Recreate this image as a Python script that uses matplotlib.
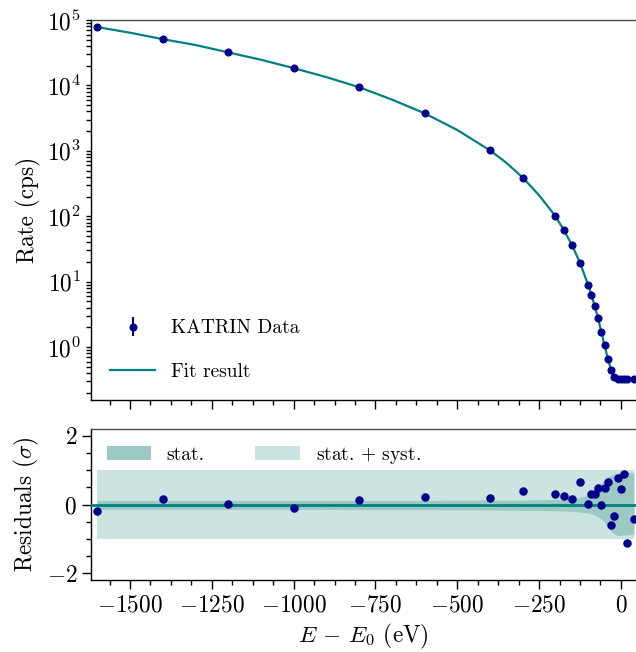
import matplotlib
matplotlib.use('Agg')
import matplotlib.pyplot as plt
from matplotlib.ticker import FixedLocator, AutoMinorLocator, MultipleLocator, LogLocator
import numpy as np

plt.rcParams['font.family'] = 'serif'
plt.rcParams['font.serif'] = ['cmr10']
plt.rcParams['mathtext.fontset'] = 'cm'
plt.rcParams['axes.formatter.use_mathtext'] = True
plt.rcParams['font.size'] = 16.8

# retarding energy relative to endpoint (eV)
energy = [-1600, -1400, -1200, -1000, -800, -600, -400, -300, -200, -175, -150,
          -125, -100, -90, -80, -70, -60, -50, -40, -30, -20, -10, 0, 10, 20, 40]
rate = [78000, 51000, 32000, 18400, 9400, 3750, 1015, 390, 100, 62, 36.6,
        19.4, 8.8, 6.3, 4.2, 2.75, 1.72, 1.06, 0.66, 0.44, 0.35, 0.32, 0.32,
        0.32, 0.32, 0.32]
rate_err = [0.0] * len(energy)
residuals = [-0.19, 0.17, 0.01, -0.10, 0.13, 0.21, 0.18, 0.40, 0.30, 0.24, 0.17,
             0.66, 0.01, 0.30, 0.31, 0.48, -0.01, 0.48, 0.66, -0.61, -0.34, 0.78,
             0.46, 0.90, -1.12, -0.41]
stat_upper = [0.12, 0.12, 0.12, 0.12, 0.12, 0.12, 0.13, 0.13, 0.15, 0.16, 0.17,
              0.20, 0.28, 0.34, 0.42, 0.52, 0.62, 0.72, 0.80, 0.86, 0.89, 0.92,
              0.93, 0.94, 0.94, 0.92]
stat_lower = [-0.14, -0.14, -0.14, -0.14, -0.15, -0.15, -0.16, -0.17, -0.18, -0.19,
              -0.20, -0.22, -0.25, -0.28, -0.31, -0.36, -0.42, -0.52, -0.65, -0.78,
              -0.86, -0.90, -0.90, -0.89, -0.88, -0.87]
syst_upper = [1.0] * len(energy)
syst_lower = [-1.0] * len(energy)

# fit curve
fit_energy = [-1600, -1500, -1400, -1300, -1200, -1100, -1000, -900, -800, -700,
              -600, -500, -400, -350, -300, -250, -200, -175, -150, -125, -100,
              -90, -80, -70, -60, -50, -40, -30, -20, -10, 0, 10, 20, 46]
fit_rate = [78000, 64000, 51000, 41500, 32000, 24700, 18400, 13400, 9400, 6080,
            3750, 2080, 1015, 656, 390, 209, 100, 62, 36.6, 19.4, 8.8,
            6.3, 4.2, 2.75, 1.72, 1.06, 0.66, 0.44, 0.35, 0.32, 0.32, 0.32,
            0.32, 0.32]

DATA_C = '#00008b'
FIT_C = '#008080'
STAT_C = '#9ccac3'
SYST_C = '#cce4e1'

fig = plt.figure(figsize=(6.36, 6.52), dpi=100)
ax1 = fig.add_axes([0.1431, 0.3865, 0.8569, 0.5828])
ax2 = fig.add_axes([0.1431, 0.1104, 0.8569, 0.2316], sharex=ax1)

# top panel: rate
ax1.errorbar(energy, rate, yerr=rate_err, fmt='o', color=DATA_C, ms=4.8,
             elinewidth=1.5, capsize=0, label='KATRIN Data', zorder=3)
ax1.plot(fit_energy, fit_rate, color=FIT_C, lw=1.6, label='Fit result', zorder=2)
ax1.set_yscale('log')
ax1.set_ylim(0.155, 1e5)
ax1.set_xlim(-1619, 46)
ax1.set_ylabel('Rate (cps)')
ax1.yaxis.set_major_locator(LogLocator(base=10, numticks=10))
ax1.yaxis.set_minor_locator(LogLocator(base=10, subs=np.arange(2, 10), numticks=10))
ax1.tick_params(axis='y', which='both', length=3.8, width=1)
ax1.tick_params(axis='x', which='major', length=6.5, width=1, labelbottom=False)
ax1.tick_params(axis='x', which='minor', length=3.5, width=1)
h1, l1 = ax1.get_legend_handles_labels()
ax1.legend([h1[1], h1[0]], [l1[1], l1[0]], loc='lower left',
           bbox_to_anchor=(0.0, 0.0), frameon=False,
           fontsize=14, handlelength=2.3, labelspacing=1.3,
           borderaxespad=0.6)

# bottom panel: residuals
ax2.fill_between(energy, syst_lower, syst_upper, color=SYST_C, lw=0,
                 label=r'stat. $+$ syst.', zorder=1)
ax2.fill_between(energy, stat_lower, stat_upper, color=STAT_C, lw=0,
                 label='stat.', zorder=2)
ax2.axhline(0, color=FIT_C, lw=2, zorder=3)
ax2.scatter(energy, residuals, s=26, color=DATA_C, zorder=4)
ax2.set_ylim(-2.2, 2.2)
ax2.set_ylabel(r'Residuals ($\sigma$)')
ax2.set_xlabel(r'$E\,-\,E_0$ (eV)')
ax2.yaxis.set_major_locator(FixedLocator([-2, 0, 2]))
ax2.yaxis.set_minor_locator(MultipleLocator(0.5))
ax2.xaxis.set_major_locator(MultipleLocator(250))
ax2.xaxis.set_minor_locator(AutoMinorLocator(4))
ax2.tick_params(which='major', length=6.5, width=1)
ax2.tick_params(which='minor', length=3.5, width=1)
h, l = ax2.get_legend_handles_labels()
ax2.legend([h[1], h[0]], [l[1], l[0]], loc='upper left', ncol=2, frameon=False,
           fontsize=14, handlelength=2.3, columnspacing=2.6, borderaxespad=0.4)

for ax in (ax1, ax2):
    ax.spines['right'].set_visible(False)
    ax.spines['top'].set_color('0.3')
    for s in ('left', 'bottom', 'top'):
        ax.spines[s].set_linewidth(1)

fig.align_ylabels([ax1, ax2])
fig.savefig('out.png', dpi=100)
